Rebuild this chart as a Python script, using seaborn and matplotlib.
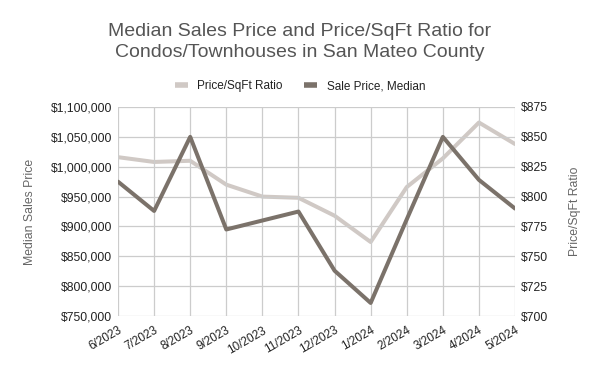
import matplotlib
matplotlib.use("Agg")
import matplotlib.pyplot as plt
import matplotlib.ticker as mticker
from matplotlib.lines import Line2D
import seaborn as sns
import pandas as pd

months = ["6/2023", "7/2023", "8/2023", "9/2023", "10/2023", "11/2023",
          "12/2023", "1/2024", "2/2024", "3/2024", "4/2024", "5/2024"]
sale_price = [975000, 926000, 1050000, 895000, 910000, 925000,
              826000, 772000, 912000, 1050000, 978000, 930000]
price_sqft = [833, 829, 830, 810, 800, 799,
              784, 762, 808, 832, 862, 844]

df = pd.DataFrame({"month": months, "idx": range(len(months)),
                   "sale": sale_price, "sqft": price_sqft})

sns.set_theme(style="white")
plt.rcParams['font.family'] = ['Liberation Sans', 'DejaVu Sans']

DARK = "#7b726a"
LIGHT = "#d0c9c5"
GRID = "#cccccc"
TXT = "#222222"
LAB = "#666666"

fig = plt.figure(figsize=(6, 3.71), dpi=100)
ax = fig.add_axes([0.1967, 0.148, 0.6617, 0.5636])
ax2 = ax.twinx()

sns.lineplot(data=df, x="idx", y="sqft", ax=ax2, color=LIGHT, linewidth=2.9, zorder=2)
sns.lineplot(data=df, x="idx", y="sale", ax=ax, color=DARK, linewidth=2.9, zorder=3)

ax.set_zorder(ax2.get_zorder() + 1)
ax.patch.set_visible(False)

ax.set_xlim(0, len(months) - 1)
ax.set_ylim(750000, 1100000)
ax2.set_ylim(700, 875)
ax.set_yticks(range(750000, 1100001, 50000))
ax2.set_yticks(range(700, 876, 25))
ax.yaxis.set_major_formatter(mticker.FuncFormatter(lambda v, p: f"${v:,.0f}"))
ax2.yaxis.set_major_formatter(mticker.FuncFormatter(lambda v, p: f"${v:,.0f}"))

ax.set_xticks(list(range(len(months))))
ax.set_xticklabels(months, rotation=30, ha="right", rotation_mode="anchor")

for a in (ax, ax2):
    a.tick_params(axis="both", length=0, labelsize=8.7, colors=TXT, pad=4)
    for s in a.spines.values():
        s.set_visible(False)
ax.tick_params(axis="x", pad=6, labelsize=8.5)

ax.grid(True, color=GRID, linewidth=0.9)
ax.set_axisbelow(True)
ax2.grid(False)

ax.set_xlabel("")
ax.set_ylabel("Median Sales Price", color=LAB, fontsize=8.8, labelpad=11)
ax2.set_ylabel("Price/SqFt Ratio", color=LAB, fontsize=8.8, labelpad=15)
ax2.set_xlabel("")

fig.text(0.5, 0.887, "Median Sales Price and Price/SqFt Ratio for\nCondos/Townhouses in San Mateo County",
         ha="center", va="center", fontsize=14, color="#555555", linespacing=1.3)

handles = [Line2D([0], [0], color=LIGHT, linewidth=4, solid_capstyle="butt"),
           Line2D([0], [0], color=DARK, linewidth=4, solid_capstyle="butt")]
leg = fig.legend(handles, ["Price/SqFt Ratio", "Sale Price, Median"], loc="center",
                 bbox_to_anchor=(0.5, 0.768), ncol=2, frameon=False, fontsize=8.5,
                 handlelength=1.1, handletextpad=0.8, columnspacing=1.8)
for t in leg.get_texts():
    t.set_color(TXT)

fig.savefig("out.png", dpi=100)
